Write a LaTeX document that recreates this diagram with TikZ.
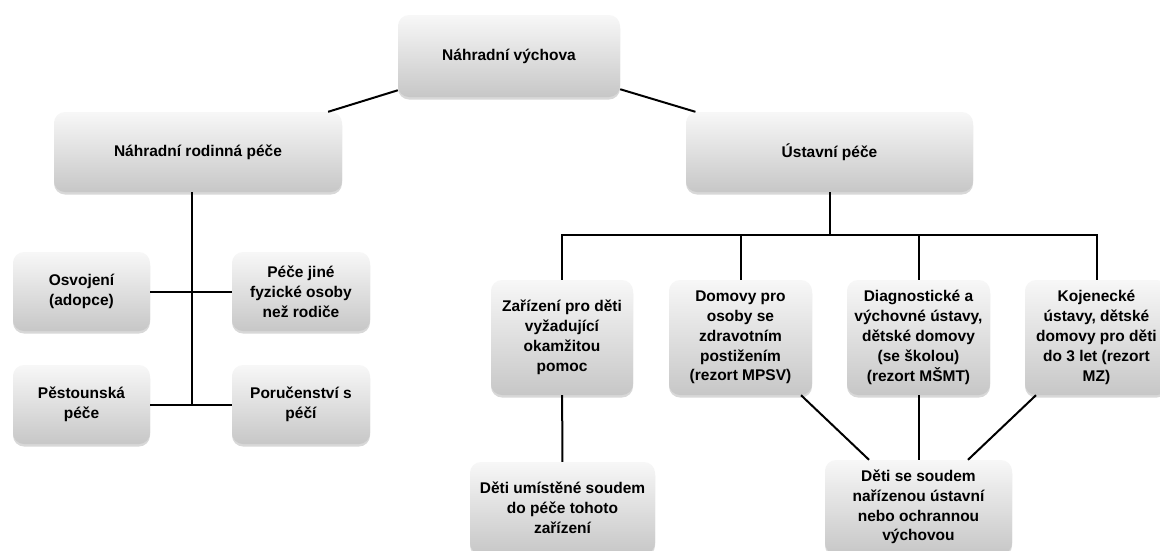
\documentclass[tikz,border=0pt]{standalone}
\usepackage{fontspec}
\setmainfont{Liberation Sans}
\usepackage{tikz}
\usetikzlibrary{shadows}
\usetikzlibrary{positioning}

\begin{document}
\begin{tikzpicture}[x=1pt,y=-1pt,
  vbox/.style={rounded corners=11pt,inner sep=0pt,align=center,
    top color=black!3,bottom color=black!22,
    drop shadow={shadow xshift=0pt,shadow yshift=-2.5pt,opacity=0.25,fill=black!60},
    font=\fontsize{15.5}{19.8}\selectfont\bfseries},
  link/.style={line width=2pt,black}]
\useasboundingbox[fill=white] (0,0) rectangle (1160,550);
% top levels
\node[vbox,minimum width=222pt,minimum height=82pt] (nv) at (509,56) {Náhradní výchova};
\node[vbox,minimum width=288pt,minimum height=80pt] (nrp) at (198,152) {Náhradní rodinná péče};
\node[vbox,minimum width=287pt,minimum height=80pt] (up) at (829.5,152) {Ústavní péče};
\draw[link] (nv) -- (nrp);
\draw[link] (nv) -- (up);
% rodinna pece
\node[vbox,minimum width=137pt,minimum height=79pt] (osv) at (81.5,291.5) {Osvojení\\(adopce)};
\node[vbox,minimum width=138pt,minimum height=79pt] (jine) at (301,291.5) {Péče jiné\\fyzické osoby\\než rodiče};
\node[vbox,minimum width=137pt,minimum height=79pt] (pest) at (81.5,404.5) {Pěstounská\\péče};
\node[vbox,minimum width=138pt,minimum height=79pt] (poruc) at (301,404.5) {Poručenství s\\péčí};
\coordinate (lt) at (192,192);
\coordinate (lb) at (192,404.5);
\draw[link] (lt) -- (lb);
\draw[link] (osv) -- (jine);
\draw[link] (pest) -- (poruc);
% ustavni pece
\node[vbox,minimum width=142pt,minimum height=115pt] (zar) at (562,337.5) {Zařízení pro děti\\vyžadující\\okamžitou\\pomoc};
\node[vbox,minimum width=143pt,minimum height=115pt] (dom) at (740.5,337.5) {Domovy pro\\osoby se\\zdravotním\\postižením\\(rezort MPSV)};
\node[vbox,minimum width=143pt,minimum height=115pt] (diag) at (918.5,337.5) {Diagnostické a\\výchovné ústavy,\\dětské domovy\\(se školou)\\(rezort MŠMT)};
\node[vbox,minimum width=143pt,minimum height=115pt] (koj) at (1096.5,337.5) {Kojenecké\\ústavy, dětské\\domovy pro děti\\do 3 let (rezort\\MZ)};
\coordinate (bus) at (830,235);
\draw[link] (up) -- (up |- bus);
\draw[link] (zar) |- (bus) -| (koj);
\draw[link] (dom) -- (dom |- bus);
\draw[link] (diag) -- (diag |- bus);
% bottom
\node[vbox,minimum width=185pt,minimum height=92pt] (detiu) at (562.5,508) {Děti umístěné soudem\\do péče tohoto\\zařízení};
\node[vbox,minimum width=187pt,minimum height=94pt] (detis) at (918.5,507) {Děti se soudem\\nařízenou ústavní\\nebo ochrannou\\výchovou};
\draw[link] (zar) -- (detiu);
\draw[link] (dom) -- (detis);
\draw[link] (diag) -- (detis);
\draw[link] (koj) -- (detis);
\end{tikzpicture}
\end{document}
